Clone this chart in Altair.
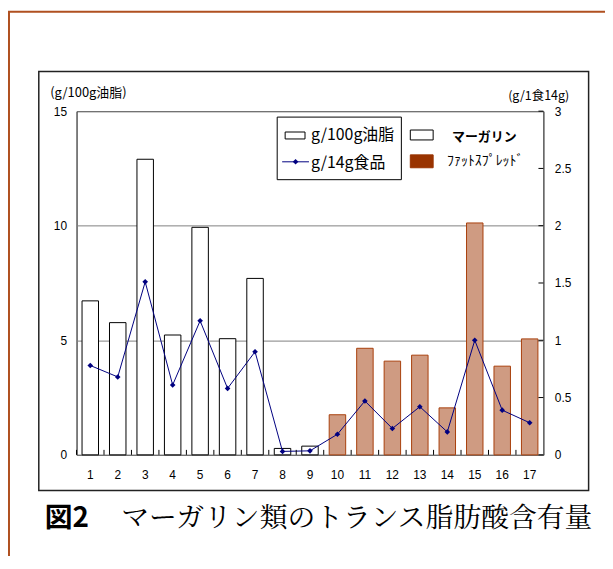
import altair as alt
import pandas as pd

# ---- data ----
categories = [str(i) for i in range(1, 18)]
fat_per_100g = [6.72, 5.77, 12.9, 5.23, 9.93, 5.07, 7.70, 0.28, 0.38,
                1.75, 4.65, 4.09, 4.35, 2.05, 10.12, 3.87, 5.06]
per_14g_food = [0.78, 0.68, 1.51, 0.61, 1.17, 0.58, 0.90, 0.03, 0.035,
                0.18, 0.47, 0.23, 0.42, 0.20, 1.00, 0.39, 0.28]
product_type = ["マーガリン"] * 9 + ["ファットスプレッド"] * 8
type_names = ["マーガリン", "ファットスプレッド"]
left_ticks = [0, 5, 10, 15]
right_ticks = [0, 0.5, 1, 1.5, 2, 2.5, 3]

W, H = 470, 346
STEP = W / len(categories)
CJK = "Noto Sans CJK JP"
LAT = "Liberation Sans"
NAVY = "#000080"

df = pd.DataFrame({
    "cat": categories,
    "fat": fat_per_100g,
    "food": per_14g_food,
    "type": product_type,
})

xenc = alt.X("cat:N", sort=categories,
             scale=alt.Scale(domain=categories, paddingInner=0.4, paddingOuter=0.2),
             axis=alt.Axis(orient="bottom", ticks=False, domain=False, labelAngle=0,
                           labelPadding=15, title=None, grid=False,
                           labelFont=LAT, labelFontSize=12, labelColor="#000"))

bars = alt.Chart(df).mark_bar(strokeWidth=1).encode(
    x=xenc,
    y=alt.Y("fat:Q", scale=alt.Scale(domain=[0, 15], nice=False),
            axis=alt.Axis(orient="left", values=left_ticks, ticks=False, domain=False,
                          grid=True, gridColor="#808080", gridWidth=1,
                          labelPadding=10, labelFont=LAT, labelFontSize=12, labelColor="#000",
                          title="(g/100g油脂)", titleAngle=0, titleX=-27, titleY=-15,
                          titleAlign="left", titleBaseline="alphabetic",
                          titleFont=CJK, titleFontSize=13, titleFontWeight="normal",
                          titleColor="#000")),
    fill=alt.Fill("type:N", scale=alt.Scale(domain=type_names, range=["#ffffff", "#cf9b82"]),
                  legend=None),
    stroke=alt.Stroke("type:N", scale=alt.Scale(domain=type_names, range=["#000000", "#a8400c"]),
                      legend=None),
)

line = alt.Chart(df).mark_line(
    color=NAVY, strokeWidth=1,
    point=alt.OverlayMarkDef(shape="diamond", filled=True, size=32, color=NAVY),
).encode(
    x=alt.X("cat:N", sort=categories),
    y=alt.Y("food:Q", scale=alt.Scale(domain=[0, 3], nice=False),
            axis=alt.Axis(orient="right", values=right_ticks, format="~g", ticks=False,
                          domain=False, grid=False, labelPadding=11,
                          labelFont=LAT, labelFontSize=12, labelColor="#000",
                          title="(g/1食14g)", titleAngle=0, titleX=-36, titleY=-12,
                          titleAlign="left", titleBaseline="alphabetic",
                          titleFont=CJK, titleFontSize=12.5, titleFontWeight="normal",
                          titleColor="#000")),
)

# inward ticks on the right axis
rtick = alt.Chart(pd.DataFrame({"v": right_ticks})).mark_rule(color="#000", strokeWidth=1).encode(
    y=alt.Y("v:Q", scale=alt.Scale(domain=[0, 3], nice=False), axis=None),
    x=alt.value(W - 5), x2=alt.value(W),
)

# inward ticks on the x axis at band boundaries
xtick = alt.Chart(pd.DataFrame({"cat": categories})).mark_rule(
    color="#000", strokeWidth=1, xOffset=-STEP / 2).encode(
    x=alt.X("cat:N", sort=categories),
    y=alt.value(H - 5), y2=alt.value(H),
)

one = pd.DataFrame({"k": [0]})

outer = alt.Chart(one).mark_rect(fill=None, stroke="#b05020", strokeWidth=2).encode(
    x=alt.value(-68), x2=alt.value(700), y=alt.value(-100), y2=alt.value(700))
inner = alt.Chart(one).mark_rect(fill=None, stroke="#222", strokeWidth=1.5).encode(
    x=alt.value(-38), x2=alt.value(515.5), y=alt.value(-40), y2=alt.value(382))

# legend 1 (boxed)
lbox = alt.Chart(one).mark_rect(fill="white", stroke="#000", strokeWidth=1).encode(
    x=alt.value(202), x2=alt.value(327), y=alt.value(6), y2=alt.value(69))
lsw1 = alt.Chart(one).mark_rect(fill="white", stroke="#000", strokeWidth=1).encode(
    x=alt.value(210), x2=alt.value(230), y=alt.value(21), y2=alt.value(28))
lln = alt.Chart(one).mark_rule(color=NAVY, strokeWidth=1).encode(
    x=alt.value(207), x2=alt.value(234), y=alt.value(51))
lpt = alt.Chart(one).mark_point(shape="diamond", filled=True, size=32, color=NAVY, opacity=1).encode(
    x=alt.value(220.5), y=alt.value(51))
lt1 = alt.Chart(one).mark_text(text="g/100g油脂", align="left", baseline="middle",
                                font=CJK, fontSize=16, color="#000").encode(
    x=alt.value(236), y=alt.value(24.5))
lt2 = alt.Chart(one).mark_text(text="g/14g食品", align="left", baseline="middle",
                                font=CJK, fontSize=16, color="#000").encode(
    x=alt.value(236), y=alt.value(52))

# legend 2 (type)
l2a = alt.Chart(one).mark_rect(fill="white", stroke="#000", strokeWidth=1).encode(
    x=alt.value(336), x2=alt.value(359), y=alt.value(19), y2=alt.value(29))
l2b = alt.Chart(one).mark_rect(fill="#993300", stroke="#993300", strokeWidth=1).encode(
    x=alt.value(336), x2=alt.value(359), y=alt.value(44), y2=alt.value(57))
l2t1 = alt.Chart(one).mark_text(text="マーガリン", align="left", baseline="middle",
                                 font=CJK, fontSize=13, fontWeight="bold", color="#000").encode(
    x=alt.value(378), y=alt.value(26))
l2t2 = alt.Chart(one).mark_text(text="ﾌｧｯﾄｽﾌﾟﾚｯﾄﾞ", align="left", baseline="middle",
                                 font=CJK, fontSize=14, color="#000").encode(
    x=alt.value(373), y=alt.value(50))

# caption
cap1 = alt.Chart(one).mark_text(text="図2", align="left", baseline="middle",
                                 font=CJK, fontSize=28, fontWeight="bold", color="#000").encode(
    x=alt.value(-32), y=alt.value(411))
cap2 = alt.Chart(one).mark_text(text="マーガリン類のトランス脂肪酸含有量", align="left",
                                 baseline="middle", font="Noto Serif CJK JP, " + CJK,
                                 fontSize=28, fontWeight="normal", color="#000").encode(
    x=alt.value(45), y=alt.value(411))

chart = alt.layer(
    outer, inner, bars, line, rtick, xtick,
    lbox, lsw1, lln, lpt, lt1, lt2, l2a, l2b, l2t1, l2t2, cap1, cap2,
).resolve_scale(
    y="independent", fill="independent", stroke="independent"
).properties(
    width=W, height=H,
    autosize=alt.AutoSizeParams(type="none"),
    padding={"left": 69, "top": 102, "right": 62, "bottom": 100},
    background="white",
).configure_view(stroke="#000", strokeWidth=1)

chart.save("out.html", embed_options={"renderer": "svg", "actions": False})
